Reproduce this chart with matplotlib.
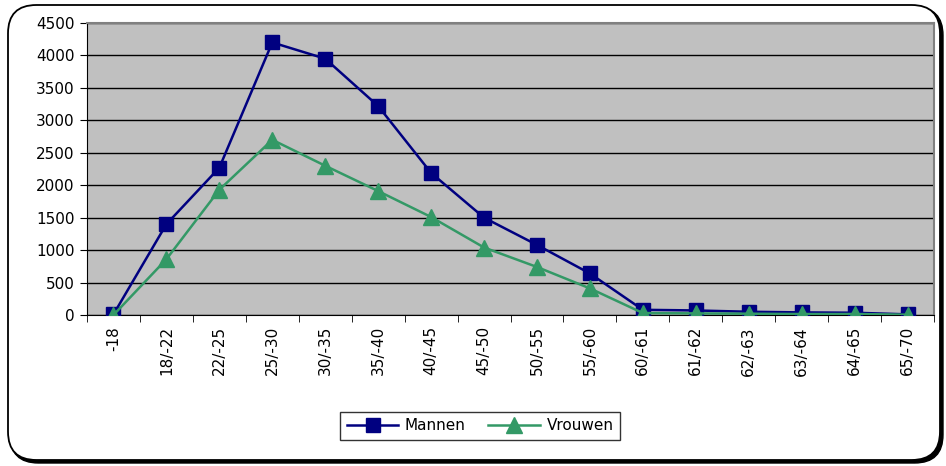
import matplotlib
matplotlib.use("Agg")
import matplotlib.pyplot as plt
from matplotlib.patches import FancyBboxPatch
import numpy as np

categories = ["-18", "18/-22", "22/-25", "25/-30", "30/-35", "35/-40", "40/-45", "45/-50",
              "50/-55", "55/-60", "60/-61", "61/-62", "62/-63", "63/-64", "64/-65", "65/-70"]
mannen = [10, 1400, 2270, 4200, 3950, 3220, 2190, 1500, 1080, 640, 80, 70, 50, 40, 35, 10]
vrouwen = [0, 860, 1930, 2700, 2300, 1910, 1510, 1040, 740, 410, 30, 25, 20, 15, 15, 5]
yticks = [0, 500, 1000, 1500, 2000, 2500, 3000, 3500, 4000, 4500]

plt.rcParams['font.family'] = ['DejaVu Sans']
fig = plt.figure(figsize=(9.46, 4.66), dpi=100)
W, H = 946, 466

# outer rounded frame with shadow
shadow = FancyBboxPatch((10 / W, 3 / H), 933 / W, 456 / H,
                        boxstyle="round,pad=0,rounding_size=0.03",
                        transform=fig.transFigure, facecolor="black", edgecolor="black",
                        mutation_aspect=W / H, zorder=0)
fig.patches.append(shadow)
frame = FancyBboxPatch((8 / W, 6 / H), 932 / W, 455 / H,
                       boxstyle="round,pad=0,rounding_size=0.03",
                       transform=fig.transFigure, facecolor="white", edgecolor="black",
                       linewidth=1.3, mutation_aspect=W / H, zorder=1)
fig.patches.append(frame)

ax = fig.add_axes([87 / W, 1 - 315 / H, (934 - 87) / W, (315 - 23) / H])
ax.set_zorder(2)
ax.set_facecolor("#C0C0C0")
x = np.arange(len(categories))
ax.plot(x, mannen, color="#000080", marker="s", markersize=10, linewidth=1.8,
        label="Mannen", zorder=3)
ax.plot(x, vrouwen, color="#339966", marker="^", markersize=11, linewidth=1.8,
        label="Vrouwen", zorder=4)

ax.set_xlim(-0.5, len(categories) - 0.5)
ax.set_ylim(0, 4500)
ax.set_yticks(yticks)
ax.set_yticklabels([str(v) for v in yticks], fontsize=11)
ax.yaxis.grid(True, color="black", linewidth=1)
ax.set_axisbelow(True)

ax.set_xticks(x)
ax.set_xticklabels(categories, rotation=90, fontsize=11)
ax.set_xticks(np.arange(-0.5, len(categories)), minor=True)
ax.tick_params(axis="x", which="major", length=0, pad=8)
ax.tick_params(axis="x", which="minor", length=5, color="black", direction="out")
ax.tick_params(axis="y", length=5, color="black", direction="out", pad=4)

for side in ["top", "right"]:
    ax.spines[side].set_color("#808080")
    ax.spines[side].set_linewidth(1.5)
ax.spines["left"].set_color("black")
ax.spines["bottom"].set_color("black")

leg = fig.legend(loc="center", bbox_to_anchor=(480 / W, 1 - 426 / H), ncol=2,
                 fontsize=11, frameon=True, fancybox=False, edgecolor="black",
                 handlelength=3.4, columnspacing=1.5, handletextpad=0.4,
                 borderpad=0.4)
leg.get_frame().set_linewidth(1)
leg.set_zorder(5)

fig.savefig("out.png", dpi=100)
